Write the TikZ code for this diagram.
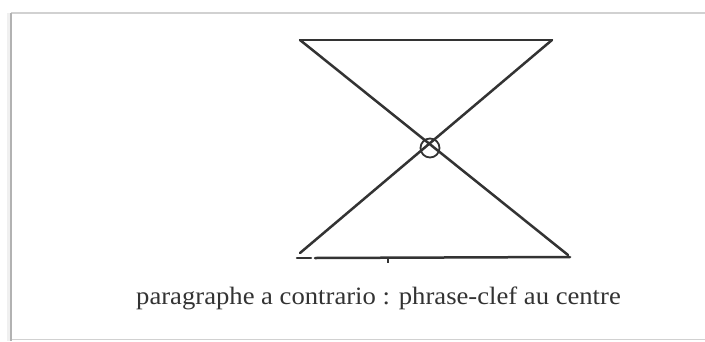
\documentclass[tikz,border=0pt]{standalone}
\usepackage{fontspec}
\setmainfont{Liberation Serif}
\usetikzlibrary{calc}
\tikzset{
  stroke/.style={draw=black!80, line width=2.5pt, line cap=round, line join=round},
  framegray/.style={draw=black!18, line width=1.2pt},
  frameleft/.style={draw=black!30, line width=2pt},
}
\begin{document}
\begin{tikzpicture}[x=1pt,y=-1pt]
\useasboundingbox (0,0) rectangle (705,341);
\fill[white] (0,0) rectangle (705,341);
% frame
\fill[black!6] (7,13) rectangle (10,341);
\draw[framegray] (11,13) -- (705,13);
\draw[framegray] (11,339.5) -- (705,339.5);
\draw[frameleft] (11,13) -- (11,341);
% corners
\coordinate (tl) at (300,40);
\coordinate (tr) at (552,40);
\coordinate (bl) at (300,253);
\coordinate (br) at (568,255);
\coordinate (bs) at (297,258);
\coordinate (be) at (570,257);
\coordinate (gapa) at (311,258);
\coordinate (gapb) at (315,258);
\coordinate (tick) at (388,258);
\coordinate (tickend) at (388,263);
\draw[stroke] (tl) -- (tr);
\draw[stroke] (tl) -- (br);
\draw[stroke] (tr) -- (bl);
\draw[stroke] (bs) -- (gapa);
\draw[stroke] (gapb) -- (be);
\draw[draw=black!80, line width=1.6pt] (tick) -- (tickend);
\node[circle, draw=black!80, line width=1.8pt, minimum size=19pt, inner sep=0pt] (ctr) at (430,148) {};
\node[anchor=base, text=black!80, inner sep=0pt] (cap) at (378.5,304)
  {\scalebox{1.066}[1]{\fontsize{25}{29}\selectfont paragraphe a contrario : phrase-clef au centre}};
\end{tikzpicture}
\end{document}
